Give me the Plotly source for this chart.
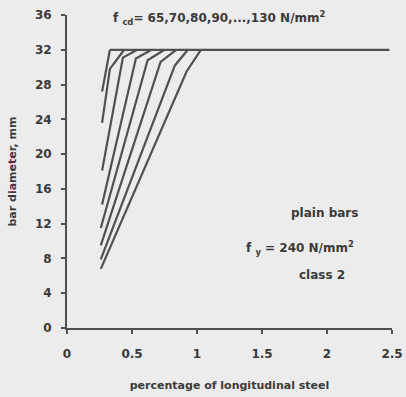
import plotly.graph_objects as go

# f_cd values (N/mm^2) for each curve
fcd = [65, 70, 80, 90, 100, 110, 120, 130]
# each curve: percentage of longitudinal steel (x) vs bar diameter mm (y)
curve_x = [
    [0.27, 0.33],
    [0.27, 0.33, 0.44],
    [0.27, 0.43, 0.54],
    [0.27, 0.53, 0.65],
    [0.26, 0.62, 0.75],
    [0.26, 0.72, 0.84],
    [0.26, 0.83, 0.93],
    [0.26, 0.92, 1.03],
]
curve_y = [
    [27.2, 32],
    [23.6, 29.8, 32],
    [18.1, 31.1, 32],
    [14.2, 31.0, 32],
    [11.5, 30.8, 32],
    [9.5, 30.6, 32],
    [7.9, 30.2, 32],
    [6.8, 29.5, 32],
]
cap_x = [0.33, 2.48]
cap_y = [32, 32]

x_ticks = [0, 0.5, 1, 1.5, 2, 2.5]
x_labels = ["0", "0.5", "1", "1.5", "2", "2.5"]
y_ticks = [0, 4, 8, 12, 16, 20, 24, 28, 32, 36]

line_col = "#505050"
text_col = "#3a3a3a"
font = "DejaVu Sans, Liberation Sans, Arial, sans-serif"

fig = go.Figure()
for f, xs, ys in zip(fcd, curve_x, curve_y):
    fig.add_trace(go.Scatter(x=xs, y=ys, mode="lines", name=f"f_cd={f}",
                             line=dict(color=line_col, width=2.2), showlegend=False))
fig.add_trace(go.Scatter(x=cap_x, y=cap_y, mode="lines",
                         line=dict(color=line_col, width=2.2), showlegend=False))

fig.update_layout(
    width=406, height=397,
    margin=dict(l=67, r=14, t=15, b=69),
    paper_bgcolor="#ececec", plot_bgcolor="#ececec",
    font=dict(family=font, size=12, color=text_col),
    xaxis=dict(range=[0, 2.5], tickvals=x_ticks, ticktext=x_labels, automargin=False,
               showgrid=False, zeroline=False, showline=True, linecolor=line_col,
               linewidth=2, ticks="outside", ticklen=4, tickwidth=1.5, tickcolor=line_col,
               ticklabelstandoff=10,
               tickfont=dict(size=12, family=font, color=text_col, weight="bold"),
               title=dict(text="<b>percentage of longitudinal steel</b>",
                          font=dict(size=11, family=font), standoff=21)),
    yaxis=dict(range=[0, 36], tickvals=y_ticks, showgrid=False, zeroline=False,
               automargin=False,
               showline=True, linecolor=line_col, linewidth=2, ticks="outside",
               ticklen=4, tickwidth=1.5, tickcolor=line_col, ticklabelstandoff=7,
               tickfont=dict(size=12, family=font, color=text_col, weight="bold"),
               title=dict(text="<b>bar diameter, mm</b>",
                          font=dict(size=11, family=font), standoff=16)),
)

fig.add_annotation(x=0.34, y=0.99, xref="x", yref="paper", xanchor="left", yanchor="middle",
                   text="<b>f <sub>cd</sub>= 65,70,80,90,...,130 N/mm<sup>2</sup></b>",
                   showarrow=False, font=dict(size=12, family=font, color=text_col))
fig.add_annotation(x=1.98, y=13.2, xref="x", yref="y", text="<b>plain bars</b>",
                   showarrow=False, font=dict(size=12, family=font, color=text_col))
fig.add_annotation(x=1.79, y=9.2, xref="x", yref="y",
                   text="<b>f <sub>y</sub> = 240 N/mm<sup>2</sup></b>",
                   showarrow=False, font=dict(size=12, family=font, color=text_col))
fig.add_annotation(x=1.96, y=6.1, xref="x", yref="y", text="<b>class 2</b>",
                   showarrow=False, font=dict(size=12, family=font, color=text_col))

fig.write_html("out.html")
